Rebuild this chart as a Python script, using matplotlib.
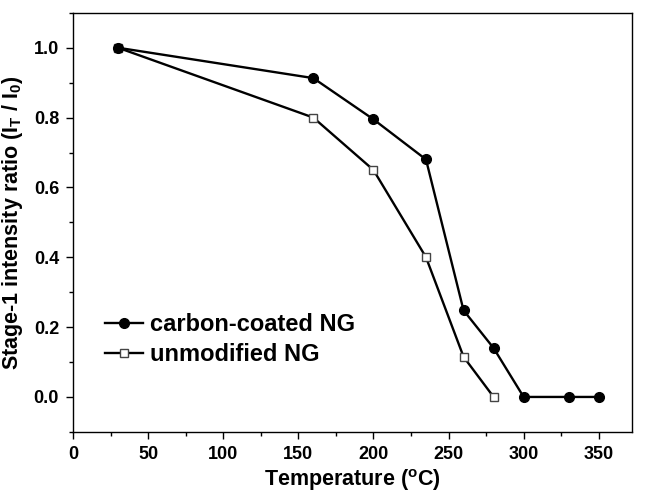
import matplotlib
matplotlib.use("Agg")
import matplotlib.pyplot as plt
from matplotlib.ticker import MultipleLocator, FormatStrFormatter

plt.rcParams["font.family"] = "Liberation Sans"
plt.rcParams["font.weight"] = "bold"
plt.rcParams["mathtext.fontset"] = "custom"
plt.rcParams["mathtext.bf"] = "Liberation Sans:bold"
plt.rcParams["mathtext.rm"] = "Liberation Sans:bold"
plt.rcParams["mathtext.default"] = "bf"

# Stage-1 peak intensity vs. temperature
temp_coated = [30, 160, 200, 235, 260, 280, 300, 330, 350]
ratio_coated = [1.0, 0.913, 0.795, 0.68, 0.248, 0.14, 0.0, 0.0, 0.0]
temp_unmod = [30, 160, 200, 235, 260, 280]
ratio_unmod = [1.0, 0.80, 0.65, 0.40, 0.115, 0.0]

fig = plt.figure(figsize=(6.46, 4.93), dpi=100)
ax = fig.add_axes([0.113, 0.124, 0.865, 0.850])

ax.plot(temp_unmod, ratio_unmod, color="black", lw=1.7, marker="s", ms=6.0,
        mfc="white", mec="#444444", mew=1.0, label="unmodified NG", zorder=3)
ax.plot(temp_coated, ratio_coated, color="black", lw=1.7, marker="o", ms=7.0,
        mfc="black", mec="black", label="carbon-coated NG", zorder=4)

ax.set_xlim(0, 372)
ax.set_ylim(-0.1, 1.1)
ax.xaxis.set_major_locator(MultipleLocator(50))
ax.xaxis.set_minor_locator(MultipleLocator(25))
ax.yaxis.set_major_locator(MultipleLocator(0.2))
ax.yaxis.set_minor_locator(MultipleLocator(0.1))
ax.yaxis.set_major_formatter(FormatStrFormatter("%.1f"))
ax.tick_params(which="major", direction="out", length=5, width=1, labelsize=13, pad=5)
ax.tick_params(which="minor", direction="out", length=3, width=1)
for s in ax.spines.values():
    s.set_linewidth(1.0)

ax.set_xlabel("Temperature ($^{o}$C)", fontsize=15.5, fontweight="bold", labelpad=3)
ax.set_ylabel("Stage-1 intensity ratio (I$_{T}$ / I$_{0}$)", fontsize=15.5,
              fontweight="bold", labelpad=6)

h, l = ax.get_legend_handles_labels()
ax.legend(h[::-1], l[::-1], loc="lower left", bbox_to_anchor=(0.04, 0.135),
          frameon=False, fontsize=17, handlelength=1.6, handletextpad=0.3,
          labelspacing=0.3, borderaxespad=0)

fig.savefig("out.png", dpi=100)
